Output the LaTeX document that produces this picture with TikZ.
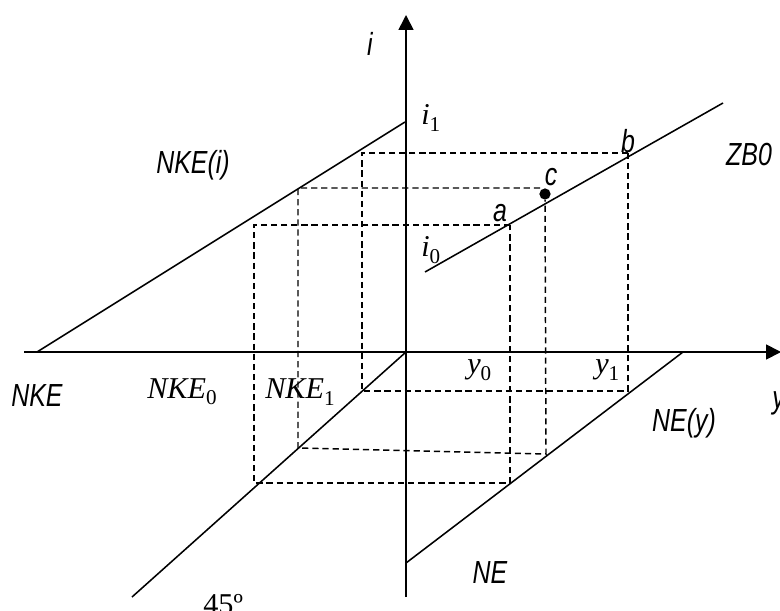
\documentclass[tikz,border=0pt]{standalone}
\usepackage{fontspec}
\setmainfont{Liberation Serif}
\newfontfamily\lblsans[FakeStretch=0.78]{Liberation Sans}
\usetikzlibrary{arrows.meta}
\newcommand{\sbs}[1]{\raisebox{-4.5pt}{\upshape\fontsize{15}{15}\selectfont #1}}

\begin{document}
\begin{tikzpicture}[x=0.025cm,y=-0.025cm,
    axisline/.style={line width=1.2pt,-{Triangle[length=10.5pt,width=10.5pt]}},
    schedule/.style={line width=1.1pt},
    guide/.style={line width=1.05pt,dash pattern=on 4.4pt off 2.8pt},
    slbl/.style={font=\lblsans\itshape\fontsize{22.7}{26}\selectfont,inner sep=0pt},
    mlbl/.style={font=\itshape\fontsize{21.5}{24}\selectfont,inner sep=0pt,anchor=west}]
  \useasboundingbox (0,0) rectangle (780,610);

  % points on the curves
  \coordinate (O) at (406,352);
  \coordinate (a) at (510,225);
  \coordinate (b) at (628,153);
  \coordinate (c) at (545,194);

  % guide rectangles
  \draw[guide] (b) -| (362,391) -| (b);
  \draw[guide] (a) -| (254,483) -| (a);
  \draw[guide] (540,188) -- (298,188) -- (298,448) -- (546,454) -- (545,200);
  \fill (c) circle[radius=4pt];

  % axes
  \draw[axisline] (24,352) -- (781,352);
  \draw[axisline] (406,597) -- (406,15);

  % schedules
  \draw[schedule] (37,352) -- (405,122);
  \draw[schedule] (425,272) -- (723,103);
  \draw[schedule] (O) -- (132,597);
  \draw[schedule] (683,352) -- (406,563);

  % labels
  \node[slbl] (li) at (370,44) {i};
  \node[slbl] (lnkei) at (193,165) {NKE(i)};
  \node[slbl] (lzb) at (749,155) {ZB0};
  \node[slbl] (la) at (500,213) {a};
  \node[slbl] (lb) at (628,141) {b};
  \node[slbl] (lc) at (551,177) {c};
  \node[slbl] (lnke) at (37,396) {NKE};
  \node[slbl,anchor=west] (ly) at (772,403) {y};
  \node[slbl] (lney) at (684,423) {NE(y)};
  \node[slbl] (lne) at (490,573) {NE};

  \node[mlbl] (li1) at (421,118) {i\sbs{1}};
  \node[mlbl] (li0) at (421,250) {i\sbs{0}};
  \node[mlbl] (lnke0) at (147,392) {NKE\sbs{0}};
  \node[mlbl] (lnke1) at (265,392) {NKE\sbs{1}};
  \node[mlbl] (ly0) at (467,370) {y\sbs{0}};
  \node[mlbl] (ly1) at (595,370) {y\sbs{1}};
  \node[inner sep=0pt,anchor=west,font=\fontsize{21.5}{24}\selectfont] (ldeg) at (203,605) {45º};
\end{tikzpicture}
\end{document}
